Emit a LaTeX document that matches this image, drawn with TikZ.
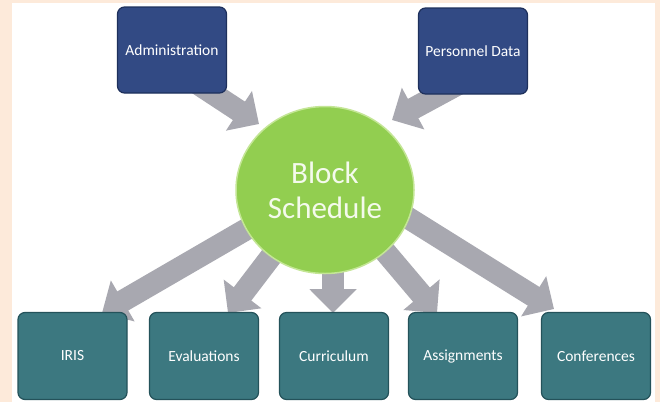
\documentclass[tikz,border=0pt]{standalone}
\usepackage{fontspec}
\setmainfont{Carlito}
\usetikzlibrary{arrows.meta,shapes.geometric,backgrounds}
\definecolor{peach}{RGB}{253,234,218}
\definecolor{navyfill}{RGB}{50,74,132}
\definecolor{navyline}{RGB}{30,48,92}
\definecolor{tealfill}{RGB}{60,120,128}
\definecolor{tealline}{RGB}{36,82,90}
\definecolor{greenfill}{RGB}{146,206,80}
\definecolor{greenline}{RGB}{196,230,150}
\definecolor{arrowgray}{RGB}{168,168,176}
\definecolor{textgreen}{RGB}{244,250,236}
\tikzset{
  topbox/.style={draw=navyline, line width=1.2pt, fill=navyfill, rounded corners=7pt,
    minimum width=109pt, minimum height=86pt, inner sep=0pt, text=white,
    font=\fontsize{15.5}{18}\selectfont},
  botbox/.style={draw=tealline, line width=1.2pt, fill=tealfill, rounded corners=7pt,
    minimum width=109pt, minimum height=87pt, inner sep=0pt, text=white,
    font=\fontsize{15.5}{18}\selectfont},
  hub/.style={ellipse, draw=greenline, line width=1.5pt, fill=greenfill,
    minimum width=178pt, minimum height=167pt, inner sep=0pt, text=textgreen,
    align=center, font=\fontsize{31}{35}\selectfont},
  blockarrow/.style={draw=arrowgray, line width=22pt,
    -{Triangle[width=46pt,length=24pt]}}
}
\begin{document}
\begin{tikzpicture}[x=1pt,y=-1pt]
\useasboundingbox (0,0) rectangle (660,402);
% nodes
\node[topbox] (adm) at (172,50) {Administration};
\node[topbox] (pers) at (473,51) {Personnel Data};
\node[hub] (bs) at (325,190) {Block\\Schedule};
\node[botbox] (iris) at (72.5,356) {IRIS};
\node[botbox] (eval) at (204,356) {Evaluations};
\node[botbox] (curr) at (334,356) {Curriculum};
\node[botbox] (assi) at (463,356) {Assignments};
\node[botbox] (conf) at (596,356) {Conferences};
% arrow ends
\coordinate (a1) at (192,80);
\coordinate (a1t) at (259,124);
\coordinate (p1) at (466,80);
\coordinate (p1t) at (392,120);
\coordinate (s1) at (252,226);
\coordinate (t1) at (102,313);
\coordinate (s2) at (276,250);
\coordinate (t2) at (228,313);
\coordinate (s3) at (333,248);
\coordinate (t3) at (333,313);
\coordinate (s4) at (382,248);
\coordinate (t4) at (437,313);
\coordinate (s5) at (405,216);
\coordinate (t5) at (554,309);
\begin{scope}[on background layer]
  \fill[peach] (0,0) rectangle (660,402);
  \fill[white] (12,3) rectangle (655,402);
  \draw[blockarrow] (a1) -- (a1t);
  \draw[blockarrow] (p1) -- (p1t);
  \draw[blockarrow] (s1) -- (t1);
  \draw[blockarrow] (s2) -- (t2);
  \draw[blockarrow] (s3) -- (t3);
  \draw[blockarrow] (s4) -- (t4);
  \draw[blockarrow] (s5) -- (t5);
\end{scope}
\end{tikzpicture}
\end{document}
